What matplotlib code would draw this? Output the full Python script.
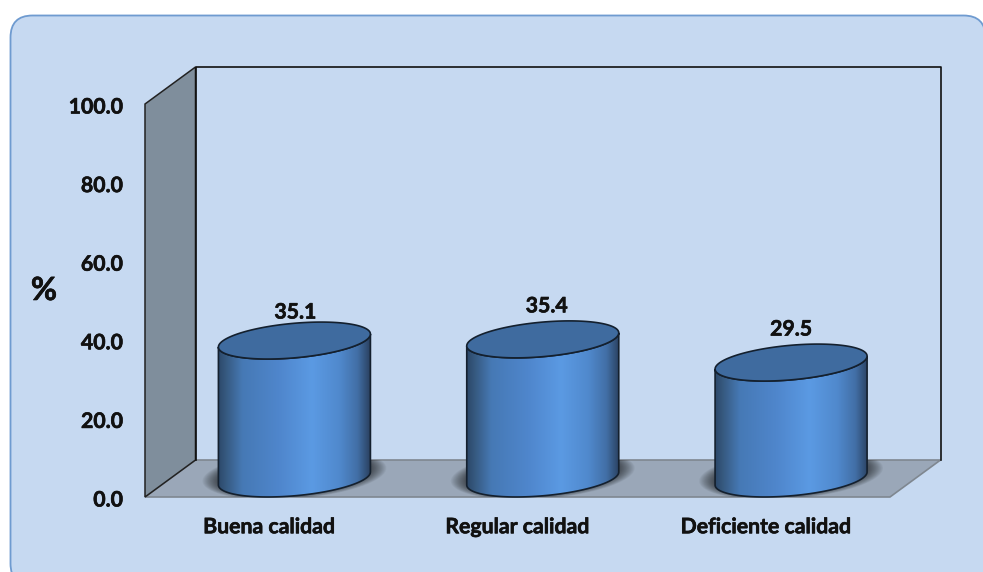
import numpy as np
import matplotlib
matplotlib.use('Agg')
import matplotlib.pyplot as plt
import matplotlib.patheffects as pe
from matplotlib.colors import LinearSegmentedColormap
from matplotlib.patches import FancyBboxPatch, Polygon
from matplotlib.transforms import ScaledTranslation

categories = ['Buena calidad', 'Regular calidad', 'Deficiente calidad']
values = [35.1, 35.4, 29.5]
y_ticks = [0, 20, 40, 60, 80, 100]

W, H = 983, 572
# front plane of the 3D box, in figure pixels
LEFT, RIGHT, BOTTOM, TOP = 145, 890, 497, 104
DEPTH_X, DEPTH_Y = 50.5, 37

plt.rcParams['font.family'] = ['Lato', 'DejaVu Sans']
plt.rcParams['font.weight'] = 'bold'

# thin outline to thicken the bold text a little
heavy = [pe.withStroke(linewidth=0.45, foreground='#111111')]

fig = plt.figure(figsize=(W / 100, H / 100), dpi=100, facecolor='white')

# rounded panel behind everything
bg = fig.add_axes([0, 0, 1, 1], zorder=0)
bg.set_xlim(0, W)
bg.set_ylim(H, 0)
bg.axis('off')
bg.add_patch(FancyBboxPatch((10.5, 15.5), 975, 570, boxstyle='round,pad=0,rounding_size=22',
                            fc='#C6D9F1', ec='#6F9BD0', lw=1.3, mutation_aspect=1))

ax = fig.add_axes([LEFT / W, 1 - BOTTOM / H, (RIGHT - LEFT) / W, (BOTTOM - TOP) / H], zorder=1)
ax.set_xlim(0, len(categories))
ax.set_ylim(0, 100)
ax.patch.set_alpha(0)
for s in ax.spines.values():
    s.set_visible(False)

px_x = len(categories) / (RIGHT - LEFT)
px_y = 100 / (BOTTOM - TOP)


def shift(x, y, dx=0, dy=0):
    # offset a data point by a distance given in pixels (dy up)
    return x + dx * px_x, y + dy * px_y


n = len(categories)
wall = [shift(0, 100), shift(0, 100, DEPTH_X, DEPTH_Y), shift(0, 0, DEPTH_X, DEPTH_Y), shift(0, 0)]
floor = [shift(0, 0), shift(0, 0, DEPTH_X, DEPTH_Y), shift(n, 0, DEPTH_X, DEPTH_Y), shift(n, 0)]
floor_patch = Polygon(floor, fc='#9AA7B8', ec='#7F8790', lw=1.2, clip_on=False, zorder=1)
ax.add_patch(floor_patch)
ax.add_patch(Polygon(wall, fc='#7F8E9C', ec='#222222', lw=1.1, clip_on=False, zorder=2))
back = [shift(0, 0, DEPTH_X, DEPTH_Y), shift(0, 100, DEPTH_X, DEPTH_Y),
        shift(n, 100, DEPTH_X, DEPTH_Y), shift(n, 0, DEPTH_X, DEPTH_Y)]
ax.plot(*zip(*back), color='#111111', lw=1.2, clip_on=False, zorder=2)

body_cmap = LinearSegmentedColormap.from_list('body', [
    (0.00, '#2C4869'), (0.05, '#36597F'), (0.16, '#4679B5'), (0.40, '#4F86CC'),
    (0.62, '#5B9AE3'), (0.80, '#5089CD'), (0.92, '#426FA6'), (1.00, '#2B4363')])

A, B, SKEW = 76, 17.3, 6.5
t = np.linspace(0, 2 * np.pi, 201)
grad = np.linspace(0, 1, 256).reshape(1, -1)


def ellipse(cx, cy, a=A, b=B, skew=SKEW):
    # tilted ellipse around a data point, sizes in pixels
    return np.column_stack(shift(cx, cy, a * np.cos(t), b * np.sin(t) + skew * np.cos(t)))


label_lift = [29, 34, 34]
label_side = [1, 4, 0]
for i, (cat, val) in enumerate(zip(categories, values)):
    cx, cy = shift(i + 0.5, 0, DEPTH_X / 2, DEPTH_Y / 2)
    top = cy + val

    # soft shadow on the floor
    for k in np.linspace(1.21, 1.0, 18):
        shadow = Polygon(ellipse(cx, cy + 1, A * k, 20 * k, SKEW), fc='black', ec='none', alpha=0.04, zorder=3)
        ax.add_patch(shadow)
        shadow.set_clip_path(floor_patch)

    # side of the cylinder: lower half of the base, then back along the top
    half = t >= np.pi
    base_arc = ellipse(cx, cy)[half]
    top_arc = ellipse(cx, top)[half][::-1]
    outline = np.vstack([base_arc, top_arc])
    x0, x1 = shift(cx, 0, -A)[0], shift(cx, 0, A)[0]
    side = Polygon(outline, fc='none', ec='#14202E', lw=1.2, clip_on=False, zorder=5)
    ax.add_patch(side)
    img = ax.imshow(grad, cmap=body_cmap, extent=[x0, x1, 0, 100], aspect='auto', zorder=4)
    img.set_clip_path(Polygon(outline, transform=ax.transData))

    ax.add_patch(Polygon(ellipse(cx, top), fc='#3F6B9F', ec='#14202E', lw=1.2, clip_on=False, zorder=6))
    ax.annotate(f'{val:.1f}', xy=(cx, top), xytext=(label_side[i] * 0.72, (label_lift[i] - 1) * 0.72),
                textcoords='offset points', ha='center', va='center', fontsize=15.3, fontweight='bold',
                color='#111111', zorder=7, path_effects=heavy)

ax.set_xlim(0, n)
ax.set_ylim(0, 100)
ax.set_xticks([i + 0.5 for i in range(n)], categories)
ax.set_yticks(y_ticks, [f'{v:.1f}' for v in y_ticks])
ax.tick_params(axis='both', length=0, labelsize=15.3, colors='#111111')
ax.tick_params(axis='x', pad=13.5)
ax.tick_params(axis='y', pad=16)
# nudge the tick labels down a little
nudge = ScaledTranslation(0, -1.5 / 100, fig.dpi_scale_trans)
for lab in ax.get_yticklabels() + ax.get_xticklabels():
    lab.set_transform(lab.get_transform() + nudge)
    lab.set_path_effects(heavy)
ax.set_ylabel('%', rotation=0, fontsize=23, fontweight='bold', color='#111111', path_effects=heavy)
ax.yaxis.set_label_coords((44 - LEFT) / (RIGHT - LEFT), (BOTTOM - 305) / (BOTTOM - TOP))

fig.savefig('out.png', dpi=100)
